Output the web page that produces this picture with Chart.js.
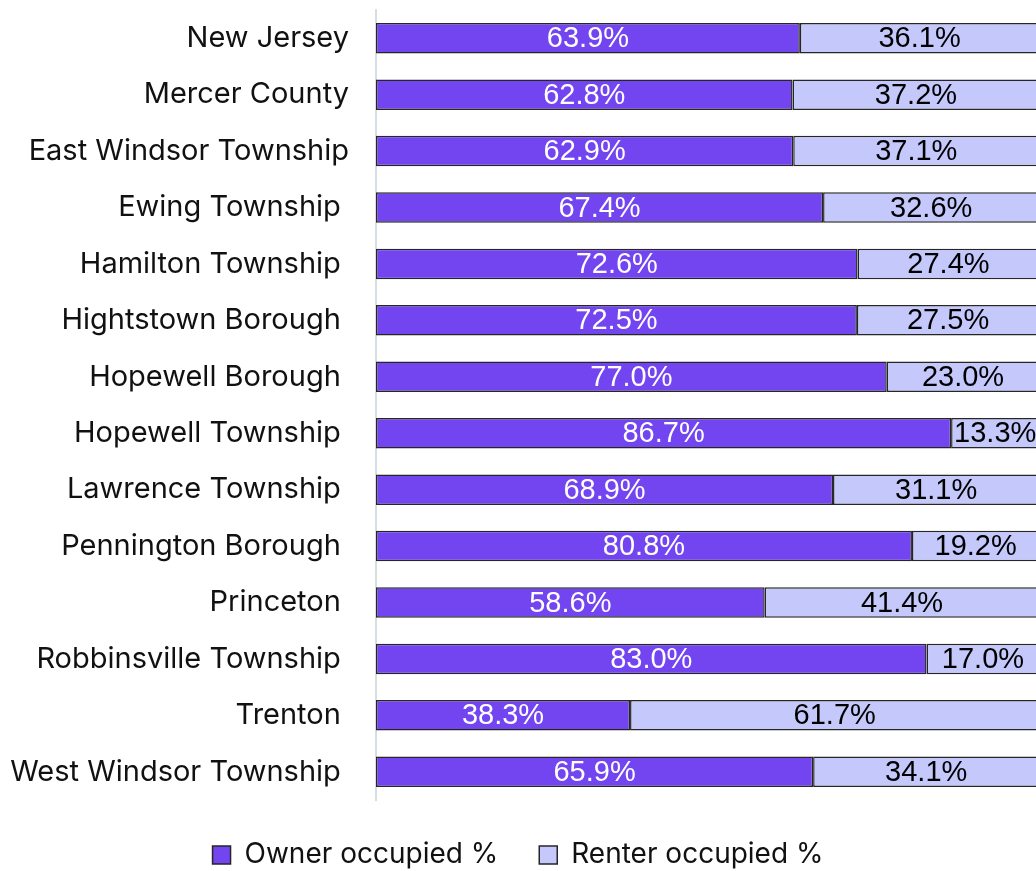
<!DOCTYPE html>
<html>
<head>
<meta charset="utf-8">
<script src="https://cdn.jsdelivr.net/npm/chart.js@4/dist/chart.umd.min.js"></script>
<style>
	html, body { margin: 0; padding: 0; background: #fff; overflow: hidden; }
	#wrap { width: 1036px; height: 871px; }
</style>
</head>
<body>
<div id="wrap"><canvas id="tenureChart"></canvas></div>
<script>
var places = [
	'New Jersey', 'Mercer County', 'East Windsor Township', 'Ewing Township ',
	'Hamilton Township ', 'Hightstown Borough ', 'Hopewell Borough ', 'Hopewell Township ',
	'Lawrence Township ', 'Pennington Borough ', 'Princeton ', 'Robbinsville Township ',
	'Trenton ', 'West Windsor Township '
];
var ownerPct = [63.9, 62.8, 62.9, 67.4, 72.6, 72.5, 77.0, 86.7, 68.9, 80.8, 58.6, 83.0, 38.3, 65.9];
var renterPct = [36.1, 37.2, 37.1, 32.6, 27.4, 27.5, 23.0, 13.3, 31.1, 19.2, 41.4, 17.0, 61.7, 34.1];

var labelFont = '"Inter", "Noto Sans", sans-serif';
var valueFont = '"Liberation Sans", Arial, sans-serif';

// draws the percentage in the middle of each segment
var segmentLabels = {
	id: 'segmentLabels',
	afterDatasetsDraw: function (chart) {
		var ctx = chart.ctx;
		ctx.save();
		ctx.font = '29px ' + valueFont;
		ctx.textAlign = 'center';
		ctx.textBaseline = 'middle';
		chart.data.datasets.forEach(function (ds, di) {
			var meta = chart.getDatasetMeta(di);
			ctx.fillStyle = di === 0 ? '#ffffff' : '#000000';
			meta.data.forEach(function (bar, i) {
				var cx = (bar.base + bar.x) / 2;
				ctx.fillText(ds.data[i].toFixed(1) + '%', cx, bar.y + 1);
			});
		});
		ctx.restore();
	}
};

var ctx = document.getElementById('tenureChart').getContext('2d');
new Chart(ctx, {
	type: 'bar',
	data: {
		labels: places,
		datasets: [{
			label: 'Owner occupied %',
			data: ownerPct,
			backgroundColor: '#7245f0',
			borderColor: '#262626',
			borderWidth: 1.5,
			borderSkipped: false,
			categoryPercentage: 0.54,
			barPercentage: 1
		}, {
			label: 'Renter occupied %',
			data: renterPct,
			backgroundColor: '#c4c8fb',
			borderColor: '#262626',
			borderWidth: 1.5,
			borderSkipped: false,
			categoryPercentage: 0.54,
			barPercentage: 1
		}]
	},
	plugins: [segmentLabels],
	options: {
		indexAxis: 'y',
		responsive: true,
		maintainAspectRatio: false,
		animation: false,
		layout: { padding: { top: 10, right: 0, left: 0, bottom: -8 } },
		scales: {
			x: {
				stacked: true,
				min: 0,
				// bars run slightly past the right edge
				max: 99.5,
				display: false
			},
			y: {
				stacked: true,
				grid: { display: false },
				border: { display: true, color: '#d6dee1', width: 2 },
				ticks: {
					color: '#111',
					padding: 19,
					font: { family: labelFont, size: 29 }
				},
				// fixed label column, no extra room above/below the bars
				afterFit: function (scale) {
					scale.width = 376;
					scale.paddingTop = 0;
					scale.paddingBottom = 0;
				}
			}
		},
		plugins: {
			legend: {
				position: 'bottom',
				labels: {
					color: '#111',
					boxWidth: 18,
					boxHeight: 18,
					padding: 41,
					font: { family: labelFont, size: 28 }
				}
			},
			tooltip: { enabled: false }
		}
	}
});
</script>
</body>
</html>
